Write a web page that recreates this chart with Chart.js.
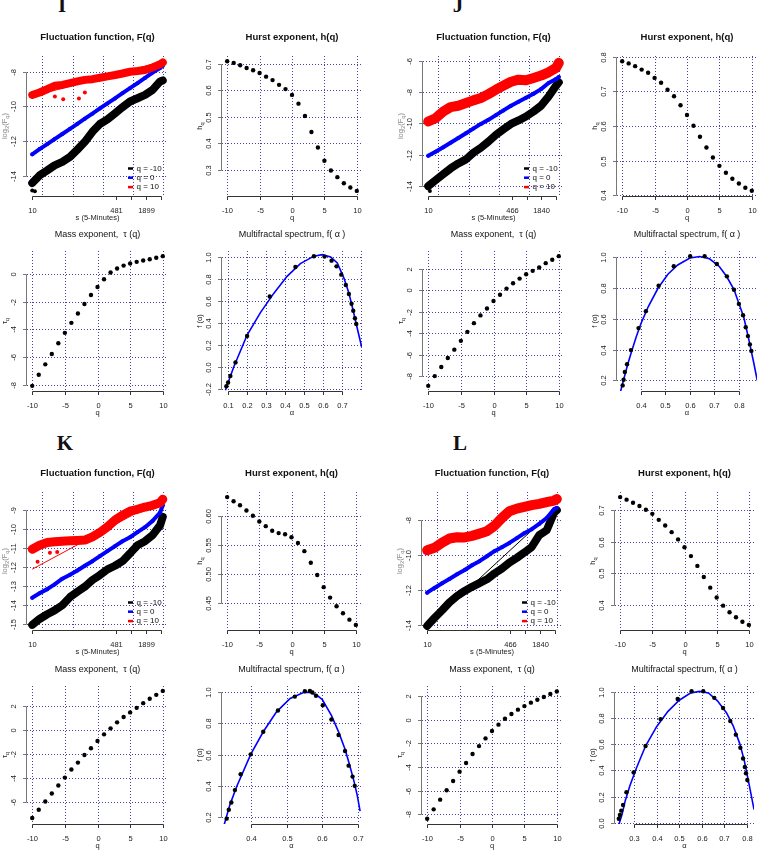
<!DOCTYPE html>
<html><head><meta charset="utf-8">
<script src="https://cdn.jsdelivr.net/npm/chart.js@4.4.1/dist/chart.umd.min.js"></script>
<style>
html,body{margin:0;padding:0;background:#fff;width:757px;height:851px;overflow:hidden;position:relative}
canvas{position:absolute}
.lab{position:absolute;width:30px;text-align:center;font-family:"Liberation Serif","Times New Roman",serif;font-weight:bold;font-size:21px;line-height:21px;color:#111}
</style></head><body>
<div class="lab" style="left:47px;top:-5px">I</div>
<div class="lab" style="left:443px;top:-5px">J</div>
<div class="lab" style="left:50px;top:433px">K</div>
<div class="lab" style="left:445px;top:433px">L</div>
<script>
// ---------------- DATA ----------------
const Q = [-10,-9,-8,-7,-6,-5,-4,-3,-2,-1,0,1,2,3,4,5,6,7,8,9,10];
const S_SCALE = [10,14,20,28,40,57,80,113,160,226,320,453,640,905,1280,1810,2560,3620,4096];
const S_FIT = [10,4096];
const X_TICKS_IK = [10,481,962,1899,3798];
const X_TICKLABELS_IK = ['10','481','','1899',''];
const X_TICKS_JL = [10,466,932,1840,3680];
const X_TICKLABELS_JL = ['10','466','','1840',''];
const FLUCT_XGRID = [16,64,256,1024,4096];
const Q_TICKS = [-10,-5,0,5,10];

// Group I
const I_fluct_black = [-14.43,-13.99,-13.70,-13.41,-13.21,-12.92,-12.50,-12.05,-11.47,-11.02,-10.75,-10.40,-10.05,-9.72,-9.53,-9.34,-9.05,-8.56,-8.50];
const I_fluct_blue  = [-12.77,-12.47,-12.18,-11.89,-11.60,-11.30,-11.01,-10.71,-10.42,-10.12,-9.83,-9.54,-9.24,-8.95,-8.66,-8.36,-8.05,-7.78,-7.65];
const I_fluct_red   = [-9.34,-9.20,-9.01,-8.81,-8.76,-8.66,-8.56,-8.47,-8.43,-8.35,-8.27,-8.19,-8.10,-8.00,-7.96,-7.90,-7.75,-7.57,-7.46];
const I_fit_red = [-9.42,-7.40];
const I_black_out_s = [10,11.3], I_black_out_y = [-14.86,-14.9];
const I_red_out_s = [28.4,41.7,86,113], I_red_out_y = [-9.43,-9.59,-9.55,-9.2];
const I_h = [0.710,0.704,0.695,0.685,0.676,0.666,0.652,0.639,0.621,0.605,0.583,0.550,0.503,0.443,0.384,0.334,0.297,0.272,0.249,0.233,0.220];
const I_tau = [-8.07,-7.27,-6.52,-5.77,-5.00,-4.25,-3.53,-2.85,-2.17,-1.52,-0.94,-0.39,0.10,0.39,0.60,0.75,0.87,0.97,1.06,1.16,1.28];
const I_alpha = [0.091,0.100,0.112,0.139,0.200,0.319,0.454,0.551,0.607,0.644,0.670,0.695,0.719,0.735,0.749,0.758,0.767,0.774];
const I_f     = [-0.177,-0.144,-0.083,0.040,0.281,0.642,0.911,1.009,1.006,0.969,0.917,0.841,0.746,0.664,0.575,0.511,0.443,0.391];
const I_curveA = [0.086,0.130,0.200,0.270,0.340,0.410,0.480,0.551,0.595,0.639,0.674,0.709,0.735,0.761,0.779,0.802];
const I_curveF = [-0.214,0.0,0.29,0.495,0.67,0.826,0.942,1.01,1.024,1.003,0.948,0.81,0.673,0.489,0.352,0.183];

// Group J
const J_fluct_black = [-14.01,-13.63,-13.24,-12.88,-12.56,-12.30,-11.88,-11.56,-11.17,-10.74,-10.38,-10.04,-9.82,-9.57,-9.25,-8.88,-8.29,-7.60,-7.39];
const J_fluct_blue  = [-12.07,-11.81,-11.53,-11.24,-10.94,-10.64,-10.34,-10.04,-9.78,-9.48,-9.18,-8.88,-8.63,-8.37,-8.12,-7.82,-7.43,-7.18,-7.05];
const J_fluct_red   = [-9.89,-9.68,-9.25,-8.97,-8.88,-8.71,-8.54,-8.39,-8.14,-7.86,-7.60,-7.35,-7.22,-7.26,-7.11,-6.96,-6.75,-6.47,-6.15];
const J_black_out_s = [10.8], J_black_out_y = [-14.31];
const J_h = [0.787,0.781,0.773,0.763,0.754,0.739,0.725,0.705,0.686,0.660,0.632,0.601,0.569,0.538,0.509,0.485,0.465,0.448,0.434,0.422,0.413];
const J_tau = [-8.90,-7.99,-7.15,-6.31,-5.53,-4.71,-3.87,-3.06,-2.34,-1.69,-1.00,-0.41,0.16,0.66,1.09,1.50,1.81,2.12,2.53,2.84,3.18];
const J_alpha = [0.325,0.329,0.334,0.343,0.359,0.390,0.420,0.472,0.534,0.601,0.660,0.710,0.751,0.780,0.800,0.817,0.828,0.837,0.845,0.851];
const J_f     = [0.168,0.205,0.255,0.305,0.397,0.540,0.650,0.815,0.941,1.007,1.007,0.956,0.876,0.789,0.697,0.623,0.545,0.488,0.434,0.392];
const J_curveA = [0.315,0.330,0.345,0.36,0.38,0.40,0.43,0.47,0.51,0.55,0.60,0.64,0.68,0.72,0.75,0.78,0.80,0.82,0.84,0.86,0.875];
const J_curveF = [0.12,0.21,0.30,0.38,0.48,0.57,0.68,0.80,0.89,0.95,0.995,1.005,0.99,0.94,0.875,0.79,0.70,0.61,0.47,0.32,0.20];

// Group K
const K_fluct_black = [-15.03,-14.72,-14.47,-14.27,-14.00,-13.57,-13.29,-13.02,-12.67,-12.41,-12.11,-11.92,-11.68,-11.27,-10.84,-10.63,-10.31,-9.79,-9.35];
const K_fluct_blue  = [-13.60,-13.37,-13.15,-12.90,-12.60,-12.39,-12.17,-11.92,-11.68,-11.41,-11.15,-10.89,-10.63,-10.42,-10.15,-9.89,-9.56,-9.12,-8.74];
const K_fluct_red   = [-11.05,-10.84,-10.70,-10.66,-10.63,-10.61,-10.59,-10.57,-10.40,-10.17,-9.87,-9.52,-9.26,-9.05,-8.95,-8.83,-8.74,-8.60,-8.42];
const K_fit_red = [-12.1,-8.4];
const K_red_out_s = [12.8,22.6,31.6], K_red_out_y = [-11.71,-11.24,-11.19];
const K_h = [0.633,0.626,0.619,0.610,0.601,0.591,0.583,0.575,0.571,0.569,0.564,0.554,0.540,0.520,0.499,0.478,0.460,0.445,0.433,0.422,0.413];
const K_tau = [-7.33,-6.64,-5.95,-5.28,-4.62,-3.96,-3.29,-2.71,-2.08,-1.52,-0.91,-0.36,0.14,0.64,1.08,1.47,1.85,2.24,2.60,2.93,3.26];
const K_alpha = [0.333,0.339,0.346,0.356,0.372,0.400,0.435,0.476,0.523,0.551,0.565,0.572,0.582,0.601,0.625,0.645,0.663,0.673,0.684,0.690];
const K_f     = [0.192,0.249,0.295,0.374,0.475,0.602,0.746,0.881,0.970,1.004,1.006,0.996,0.975,0.915,0.824,0.725,0.623,0.530,0.460,0.401];
const K_curveA = [0.326,0.342,0.361,0.400,0.435,0.472,0.510,0.547,0.565,0.584,0.600,0.625,0.645,0.663,0.675,0.688,0.697,0.705];
const K_curveF = [0.153,0.280,0.397,0.602,0.746,0.873,0.958,0.996,0.997,0.980,0.950,0.850,0.745,0.635,0.540,0.430,0.340,0.240];

// Group L
const L_fluct_black = [-14.05,-13.60,-13.16,-12.72,-12.35,-12.06,-11.83,-11.62,-11.40,-11.07,-10.79,-10.45,-10.18,-9.88,-9.56,-8.89,-8.61,-7.60,-7.47];
const L_fluct_blue  = [-12.16,-11.89,-11.62,-11.38,-11.11,-10.87,-10.60,-10.37,-10.09,-9.80,-9.57,-9.33,-9.06,-8.78,-8.55,-8.25,-7.91,-7.41,-7.34];
const L_fluct_red   = [-9.75,-9.61,-9.31,-9.08,-9.01,-9.02,-8.93,-8.80,-8.66,-8.36,-7.91,-7.53,-7.38,-7.28,-7.18,-7.11,-7.01,-6.92,-6.84];
const L_fit_black = [-14.1,-7.3];
const L_h = [0.742,0.734,0.724,0.714,0.702,0.689,0.670,0.652,0.631,0.608,0.583,0.555,0.524,0.489,0.455,0.424,0.398,0.377,0.361,0.347,0.337];
const L_tau = [-8.37,-7.58,-6.76,-5.97,-5.18,-4.39,-3.66,-2.90,-2.23,-1.58,-0.96,-0.42,0.08,0.48,0.85,1.15,1.44,1.69,1.92,2.17,2.39];
const L_alpha = [0.231,0.236,0.242,0.250,0.265,0.297,0.350,0.417,0.493,0.555,0.607,0.656,0.695,0.727,0.752,0.772,0.784,0.792,0.797,0.803];
const L_f     = [0.030,0.059,0.092,0.135,0.232,0.384,0.585,0.791,0.944,1.003,1.003,0.953,0.876,0.776,0.672,0.572,0.490,0.425,0.378,0.326];
const L_curveA = [0.232,0.245,0.260,0.280,0.310,0.350,0.400,0.450,0.500,0.550,0.590,0.630,0.670,0.710,0.740,0.770,0.790,0.810,0.833];
const L_curveF = [-0.01,0.06,0.17,0.28,0.42,0.585,0.735,0.85,0.935,0.99,1.002,0.99,0.93,0.84,0.74,0.60,0.47,0.30,0.10];

// ---------------- DRAWING ----------------
const FONT = '"Liberation Sans", Arial, Helvetica, sans-serif';
const GRID = 'rgba(35,35,150,0.85)';
const BLUE = '#0000ff', RED = '#ff0000', BLACK = '#000000';
const LOG2FQ = [['log',0],['2',1],['(F',0],['q',1],[')',0]];
const HQ = [['h',0],['q',1]];
const TAUQ = [['\u03c4',0],['q',1]];
const FALPHA = [['f (\u03b1)',0]];
const PAD = {left:36, top:30, right:8, bottom:30};

function pts(xs, ys){ return xs.map((x,i)=>({x:x, y:ys[i]})); }

function drawRich(ctx, parts, size, color){
  const sub = size*0.78;
  let w = 0;
  parts.forEach(p=>{ ctx.font = (p[1]?sub:size)+'px '+FONT; w += ctx.measureText(p[0]).width; });
  let x = -w/2;
  ctx.fillStyle = color; ctx.textAlign = 'left'; ctx.textBaseline = 'middle';
  parts.forEach(p=>{ ctx.font = (p[1]?sub:size)+'px '+FONT; ctx.fillText(p[0], x, p[1]? size*0.32 : 0); x += ctx.measureText(p[0]).width; });
}

function makePlugin(sp){
  return {
    id:'rPlot',
    beforeDatasetsDraw(chart){
      const ctx = chart.ctx, a = chart.chartArea, xs = chart.scales.x, ys = chart.scales.y;
      ctx.save();
      ctx.strokeStyle = GRID; ctx.lineWidth = 1; ctx.setLineDash([1,2]);
      ctx.beginPath();
      sp.xGrid.forEach(v=>{ const p = Math.round(xs.getPixelForValue(v))+0.5; ctx.moveTo(p,a.top); ctx.lineTo(p,a.bottom); });
      sp.yGrid.forEach(v=>{ const p = Math.round(ys.getPixelForValue(v))+0.5; ctx.moveTo(a.left,p); ctx.lineTo(a.right,p); });
      ctx.stroke();
      ctx.restore();
    },
    afterDatasetsDraw(chart){
      const ctx = chart.ctx, a = chart.chartArea, xs = chart.scales.x, ys = chart.scales.y;
      ctx.save();
      ctx.setLineDash([]);
      const yb = Math.round(a.bottom)+0.5;
      const xp = sp.xTicks.map(v=>Math.round(xs.getPixelForValue(v))+0.5);
      ctx.strokeStyle = '#333'; ctx.lineWidth = 1;
      ctx.beginPath(); ctx.moveTo(xp[0],yb); ctx.lineTo(xp[xp.length-1],yb);
      xp.forEach(p=>{ ctx.moveTo(p,yb); ctx.lineTo(p,yb+3.5); });
      ctx.stroke();
      ctx.fillStyle = '#222'; ctx.font = '7.5px '+FONT; ctx.textAlign='center'; ctx.textBaseline='middle';
      xp.forEach((p,i)=>{ if(sp.xLabels[i]) ctx.fillText(sp.xLabels[i], p, a.bottom+14.5); });
      const xl = Math.round(a.left)-0.5;
      const yp = sp.yTicks.map(v=>Math.round(ys.getPixelForValue(v))+0.5);
      ctx.strokeStyle = '#777';
      ctx.beginPath(); ctx.moveTo(xl,yp[0]); ctx.lineTo(xl,yp[yp.length-1]);
      yp.forEach(p=>{ ctx.moveTo(xl,p); ctx.lineTo(xl-3.5,p); });
      ctx.stroke();
      yp.forEach((p,i)=>{ ctx.save(); ctx.translate(a.left-13, p); ctx.rotate(-Math.PI/2); ctx.fillStyle='#222'; ctx.font='7.5px '+FONT; ctx.textAlign='center'; ctx.textBaseline='middle'; ctx.fillText(sp.yLabels[i],0,0); ctx.restore(); });
      const cx = (a.left+a.right)/2, cy = (a.top+a.bottom)/2;
      ctx.fillStyle = '#111'; ctx.textAlign='center'; ctx.textBaseline='middle';
      ctx.font = (sp.bold ? 'bold 9.5px ' : '9px ') + FONT;
      ctx.fillText(sp.title, cx, a.top - (sp.bold ? 18.5 : 16));
      ctx.font = '7.5px '+FONT; ctx.fillStyle='#222';
      ctx.fillText(sp.xTitle, cx, a.bottom+21.5);
      ctx.save(); ctx.translate(a.left-22, cy); ctx.rotate(-Math.PI/2);
      drawRich(ctx, sp.yTitle, 7.5, sp.yTitleColor || '#222');
      ctx.restore();
      if (sp.legend){
        const rows = [27.5,18.3,8.9];
        sp.legend.forEach((it,i)=>{
          const y = a.bottom - rows[i];
          ctx.strokeStyle = it[1]; ctx.lineWidth = 2.5;
          ctx.beginPath(); ctx.moveTo(a.right-40,y); ctx.lineTo(a.right-35,y); ctx.stroke();
          ctx.fillStyle = '#111'; ctx.font = '8px '+FONT; ctx.textAlign='left'; ctx.textBaseline='middle';
          ctx.fillText(it[0], a.right-31.5, y);
        });
      }
      ctx.restore();
    }
  };
}

function makeChart(region, sp, datasets){
  const [L,T,R,B] = region;
  const cv = document.createElement('canvas');
  const w = (R-L)+PAD.left+PAD.right, h = (B-T)+PAD.top+PAD.bottom;
  cv.width = w; cv.height = h;
  cv.style.left = (L-PAD.left)+'px'; cv.style.top = (T-PAD.top)+'px';
  cv.style.width = w+'px'; cv.style.height = h+'px';
  document.body.appendChild(cv);
  new Chart(cv, {
    type:'scatter',
    data:{datasets:datasets},
    options:{
      responsive:false, animation:false, devicePixelRatio:1, events:[],
      layout:{padding:PAD},
      scales:{
        x:{type:sp.xType||'linear', min:sp.xMin, max:sp.xMax, display:false},
        y:{type:'linear', min:sp.yMin, max:sp.yMax, display:false}
      },
      plugins:{legend:{display:false}, tooltip:{enabled:false}}
    },
    plugins:[makePlugin(sp)]
  });
}

function band(vals, color, w, order){
  return {data:pts(S_SCALE, vals), showLine:true, borderColor:color, borderWidth:w, tension:0,
    borderJoinStyle:'round', borderCapStyle:'round', pointRadius:2, pointBackgroundColor:color, pointBorderWidth:0, order:order};
}
function fit(vals, color){
  return {data:pts(S_FIT, vals), showLine:true, borderColor:color, borderWidth:1, pointRadius:0, order:6};
}
function dots(xs, ys, color, r){
  return {data:pts(xs, ys), showLine:false, pointRadius:r||2.2, pointBackgroundColor:color, pointBorderWidth:0, order:1};
}
function curve(xs, ys){
  return {data:pts(xs, ys), showLine:true, borderColor:BLUE, borderWidth:1.6, pointRadius:0, tension:0, order:2};
}
const LEG = [['q = -10',BLACK],['q = 0',BLUE],['q = 10',RED]];
function seq(a){ return a.map(v=>String(v)); }
function fmt1(a){ return a.map(v=>v.toFixed(1)); }

function fluctPanel(region, yMin, yMax, yTicks, xTicks, xLabels, blk, blu, rd, fits, extra, widths){
  const ds = fits.concat([band(blk,BLACK,widths[0],5), band(blu,BLUE,widths[1],4), band(rd,RED,widths[2],3)]).concat(extra);
  makeChart(region, {xType:'logarithmic', xMin:7.86, xMax:5210, yMin:yMin, yMax:yMax,
    xTicks:xTicks, xLabels:xLabels, xGrid:FLUCT_XGRID, yTicks:yTicks, yLabels:seq(yTicks), yGrid:yTicks,
    title:'Fluctuation function, F(q)', bold:true, xTitle:'s (5-Minutes)', yTitle:LOG2FQ, yTitleColor:'#888', legend:LEG}, ds);
}
function hurstPanel(region, yMin, yMax, yTicks, yLabels, h){
  makeChart(region, {xMin:-10.8, xMax:10.8, yMin:yMin, yMax:yMax, xTicks:Q_TICKS, xLabels:seq(Q_TICKS), xGrid:Q_TICKS,
    yTicks:yTicks, yLabels:yLabels, yGrid:yTicks, title:'Hurst exponent, h(q)', bold:true, xTitle:'q', yTitle:HQ}, [dots(Q,h,BLACK)]);
}
function massPanel(region, yMin, yMax, yTicks, tau){
  makeChart(region, {xMin:-10.8, xMax:10.8, yMin:yMin, yMax:yMax, xTicks:Q_TICKS, xLabels:seq(Q_TICKS), xGrid:Q_TICKS,
    yTicks:yTicks, yLabels:seq(yTicks), yGrid:yTicks, title:'Mass exponent,  \u03c4 (q)', bold:false, xTitle:'q', yTitle:TAUQ}, [dots(Q,tau,BLACK)]);
}
function specPanel(region, xMin, xMax, yMin, yMax, xTicks, xGrid, yTicks, a, f, ca, cf){
  makeChart(region, {xMin:xMin, xMax:xMax, yMin:yMin, yMax:yMax, xTicks:xTicks, xLabels:fmt1(xTicks), xGrid:xGrid,
    yTicks:yTicks, yLabels:fmt1(yTicks), yGrid:yTicks, title:'Multifractal spectrum, f( \u03b1 )', bold:false, xTitle:'\u03b1', yTitle:FALPHA},
    [dots(a,f,BLACK), curve(ca,cf)]);
}

// ---- Group I ----
fluctPanel([27,56,168,196], -15.18, -7.09, [-14,-12,-10,-8], X_TICKS_IK, X_TICKLABELS_IK,
  I_fluct_black, I_fluct_blue, I_fluct_red, [fit(I_fit_red, RED)],
  [dots(I_black_out_s, I_black_out_y, BLACK, 2), dots(I_red_out_s, I_red_out_y, RED, 2)], [8,4,8]);
hurstPanel([222,56,362,196], 0.2008, 0.7301, [0.3,0.4,0.5,0.6,0.7], ['0.3','0.4','0.5','0.6','0.7'], I_h);
massPanel([27,251,168,391], -8.442, 1.652, [-8,-6,-4,-2,0], I_tau);
specPanel([222,251,362,391], 0.068, 0.804, -0.221, 1.057, [0.1,0.2,0.3,0.4,0.5,0.6,0.7], [0.1,0.2,0.3,0.4,0.5,0.6,0.7,0.8],
  [-0.2,0,0.2,0.4,0.6,0.8,1.0], I_alpha, I_f, I_curveA, I_curveF);

// ---- Group J ----
fluctPanel([423,56,564,196], -14.635, -5.711, [-14,-12,-10,-8,-6], X_TICKS_JL, X_TICKLABELS_JL,
  J_fluct_black, J_fluct_blue, J_fluct_red, [],
  [dots(J_black_out_s, J_black_out_y, BLACK, 2)], [8,4,10]);
hurstPanel([617,56,757,196], 0.398, 0.8023, [0.4,0.5,0.6,0.7,0.8], ['0.4','0.5','0.6','0.7','0.8'], J_h);
massPanel([423,251,564,391], -9.38, 3.66, [-8,-6,-4,-2,0,2], J_tau);
specPanel([617,251,757,391], 0.302, 0.874, 0.1315, 1.0405, [0.4,0.5,0.6,0.7,0.8], [0.4,0.5,0.6,0.7,0.8],
  [0.2,0.4,0.6,0.8,1.0], J_alpha, J_f, J_curveA, J_curveF);

// ---- Group K ----
fluctPanel([27,492,168,630], -15.30, -8.04, [-15,-14,-13,-12,-11,-10,-9], X_TICKS_IK, X_TICKLABELS_IK,
  K_fluct_black, K_fluct_blue, K_fluct_red, [fit(K_fit_red, RED)],
  [dots(K_red_out_s, K_red_out_y, RED, 2)], [8,4,9]);
hurstPanel([222,492,361,630], 0.4042, 0.6418, [0.45,0.5,0.55,0.6], ['0.45','0.50','0.55','0.60'], K_h);
massPanel([27,686,168,824], -7.826, 3.668, [-6,-4,-2,0,2], K_tau);
specPanel([222,686,361,824], 0.32, 0.7075, 0.158, 1.0375, [0.4,0.5,0.6,0.7], [0.4,0.5,0.6,0.7],
  [0.2,0.4,0.6,0.8,1.0], K_alpha, K_f, K_curveA, K_curveF);

// ---- Group L ----
fluctPanel([422,492,562,630], -14.283, -6.434, [-14,-12,-10,-8], X_TICKS_JL, X_TICKLABELS_JL,
  L_fluct_black, L_fluct_blue, L_fluct_red, [fit(L_fit_black, BLACK)], [], [8,4,10]);
hurstPanel([615,492,754,630], 0.3208, 0.7582, [0.4,0.5,0.6,0.7], ['0.4','0.5','0.6','0.7'], L_h);
massPanel([422,686,562,824], -8.817, 2.849, [-8,-6,-4,-2,0,2], L_tau);
specPanel([615,686,754,824], 0.2141, 0.8327, -0.0099, 1.0435, [0.3,0.4,0.5,0.6,0.7,0.8], [0.3,0.4,0.5,0.6,0.7,0.8],
  [0,0.2,0.4,0.6,0.8,1.0], L_alpha, L_f, L_curveA, L_curveF);
</script>
</body></html>
